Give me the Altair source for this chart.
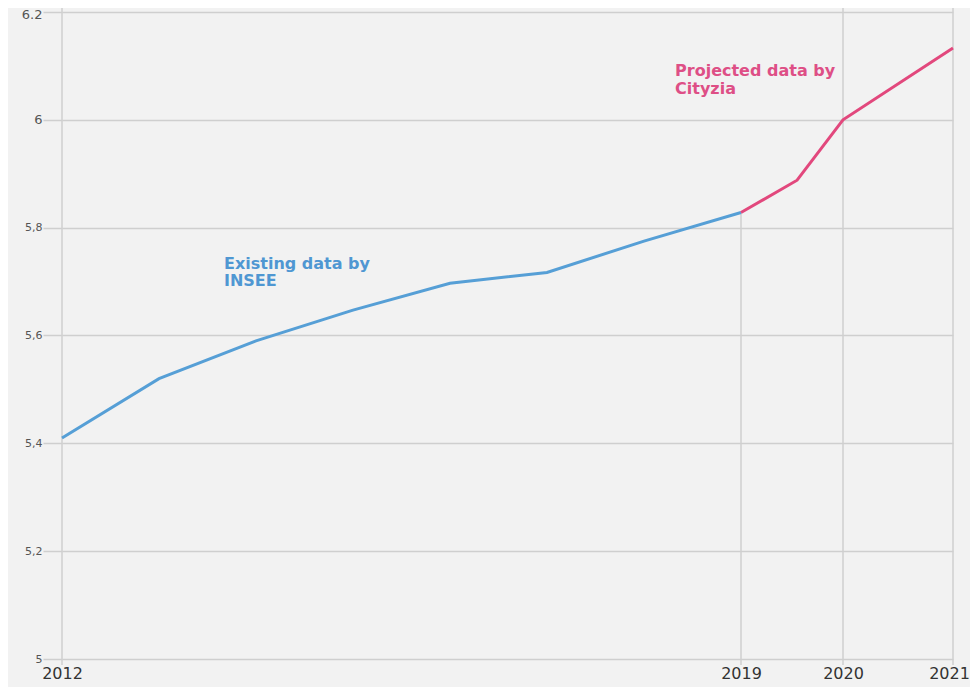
import altair as alt
import pandas as pd

# ---- data ----
years_insee = [2012, 2013, 2014, 2015, 2016, 2017, 2018, 2019]
values_insee = [5.41, 5.52, 5.59, 5.647, 5.697, 5.717, 5.775, 5.828]

years_cityzia = [2019, 2019.55, 2020, 2021]
values_cityzia = [5.828, 5.888, 6.0, 6.133]

tick_years = [2012, 2019, 2020, 2021]
y_ticks = [5, 5.2, 5.4, 5.6, 5.8, 6, 6.2]
full_grid_years = [2012, 2020, 2021]

label_text = ["Existing data by\nINSEE", "Projected data by\nCityzia"]
label_year = [2013.67, 2018.32]
label_value = [5.723, 6.081]

BLUE = "#569fd6"
PINK = "#e2487d"
GRID = "#cfcfcf"

df_insee = pd.DataFrame({"year": years_insee, "value": values_insee})
df_city = pd.DataFrame({"year": years_cityzia, "value": values_cityzia})
df_grid = pd.DataFrame({"year": full_grid_years})
df_grid2019 = pd.DataFrame({"year": [years_insee[-1]], "value": [values_insee[-1]]})
df_lab_blue = pd.DataFrame({"year": [label_year[0]], "value": [label_value[0]], "t": [label_text[0]]})
df_lab_pink = pd.DataFrame({"year": [label_year[1]], "value": [label_value[1]], "t": [label_text[1]]})

x_scale = alt.Scale(domain=[2012, 2019, 2020, 2021], range=[0, 679, 781, 891], nice=False, zero=False)
y_scale = alt.Scale(domain=[5, 6.2074], nice=False, zero=False)

x_axis = alt.Axis(values=tick_years, format="d", title=None, grid=False, domain=False,
                  ticks=False, labelFontSize=16, labelColor="#333333", labelPadding=6,
                  labelFlush=False, labelFont="DejaVu Sans",
                  labelOffset={"condition": {"test": "datum.value == 2021", "value": -4}, "value": 0})
y_axis = alt.Axis(values=y_ticks, title=None, grid=True, gridColor=GRID, gridWidth=1.5,
                  domain=False, ticks=True, tickSize=19, tickColor=GRID, tickWidth=1.5,
                  labelPadding=1, labelColor="#555555", labelFont="DejaVu Sans",
                  labelFlush=False,
                  labelOffset={"condition": {"test": "datum.value > 6.1", "value": 3}, "value": 0},
                  labelFontSize={"condition": {"test": "datum.value >= 6", "value": 13}, "value": 11},
                  labelExpr="datum.value >= 6 ? format(datum.value, '~g') : replace(format(datum.value, '~g'), '.', ',')")

X = alt.X("year:Q", scale=x_scale, axis=x_axis)
Y = alt.Y("value:Q", scale=y_scale, axis=y_axis)

grid_full = alt.Chart(df_grid).mark_rule(color=GRID, strokeWidth=1.5).encode(
    x=X, y=alt.value(0), y2=alt.value(657))
grid_2019 = alt.Chart(df_grid2019).mark_rule(color=GRID, strokeWidth=1.5).encode(
    x=X, y=Y, y2=alt.value(657))

line_blue = alt.Chart(df_insee).mark_line(color=BLUE, strokeWidth=3).encode(x=X, y=Y)
line_pink = alt.Chart(df_city).mark_line(color=PINK, strokeWidth=3).encode(x=X, y=Y)

text_blue = alt.Chart(df_lab_blue).mark_text(
    align="left", baseline="alphabetic", lineBreak="\n", lineHeight=17,
    font="DejaVu Sans", fontWeight="bold", fontSize=16, color="#4f97d2").encode(
    x=X, y=Y, text="t:N")
text_pink = alt.Chart(df_lab_pink).mark_text(
    align="left", baseline="alphabetic", lineBreak="\n", lineHeight=18,
    font="DejaVu Sans", fontWeight="bold", fontSize=16, color="#de4f86").encode(
    x=X, y=Y, text="t:N")

chart = alt.layer(grid_full, grid_2019, line_blue, line_pink, text_blue, text_pink).properties(
    width=908, height=651,
    autosize=alt.AutoSizeParams(type="none"),
    padding={"left": 54, "top": 0, "right": 0, "bottom": 28},
    background="#f2f2f2",
).configure_view(stroke=None)

chart.save("out.html", embed_options={"renderer": "svg", "actions": False})
